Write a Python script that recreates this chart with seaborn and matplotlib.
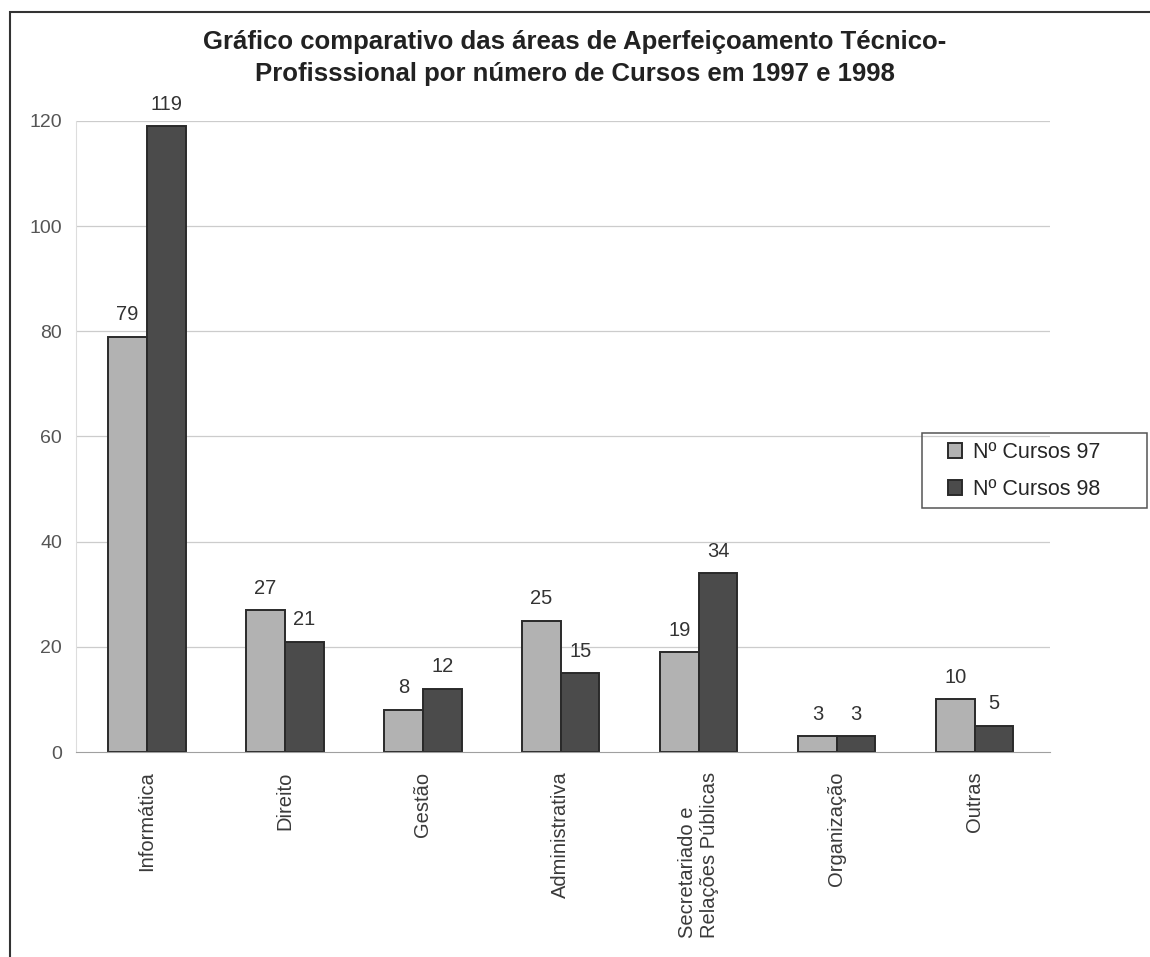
import pandas as pd
import matplotlib.pyplot as plt
import seaborn as sns
from matplotlib.patches import Rectangle

areas = ['Informática', 'Direito', 'Gestão', 'Administrativa',
         'Secretariado e\nRelações Públicas', 'Organização', 'Outras']
cursos_97 = [79, 27, 8, 25, 19, 3, 10]
cursos_98 = [119, 21, 12, 15, 34, 3, 5]
series = ['Nº Cursos 97', 'Nº Cursos 98']

df = pd.DataFrame({
    'Área': areas * 2,
    'Cursos': cursos_97 + cursos_98,
    'Série': [series[0]] * len(areas) + [series[1]] * len(areas),
})

sns.set_style('white')
plt.rcParams['font.family'] = ['Liberation Sans', 'DejaVu Sans']

fig = plt.figure(figsize=(11.5, 9.57), dpi=100)
ax = fig.add_axes([0.066, 0.2142, 0.847, 0.6594])

# light grey grid behind the bars
for y in range(20, 121, 20):
    ax.axhline(y, color='#cccccc', lw=0.9, zorder=0)

sns.barplot(data=df, x='Área', y='Cursos', hue='Série', order=areas,
            palette=['#b2b2b2', '#4b4b4b'], width=0.56, dodge=True,
            edgecolor='#2a2a2a', linewidth=1.4, ax=ax, zorder=2)

for cont in ax.containers:
    ax.bar_label(cont, fmt='%d', padding=9, fontsize=14.5, color='#333333')

ax.set_ylim(0, 120)
ax.set_xlim(-0.515, 6.545)
ax.set_yticks(range(0, 121, 20))
ax.tick_params(axis='y', labelsize=14, labelcolor='#555555', pad=10, length=0)
ax.tick_params(axis='x', labelsize=14.5, labelcolor='#3a3a3a', pad=14, length=0)
ax.set_xticks(range(len(areas)))
ax.set_xticklabels(areas, rotation=90, va='top', ha='center', multialignment='left')
ax.set_xlabel('')
ax.set_ylabel('')
for s in ['top', 'right']:
    ax.spines[s].set_visible(False)
ax.spines['left'].set_color('#dddddd')
ax.spines['bottom'].set_color('#a0a0a0')

ax.legend(loc='center left', bbox_to_anchor=(948 / 1150, 1 - 471 / 957),
          bbox_transform=fig.transFigure, fontsize=15.5, frameon=False,
          handlelength=0.65, handleheight=0.65, borderpad=0, borderaxespad=0,
          labelspacing=0.75, handletextpad=0.5)
# legend box drawn separately (wide right padding as in the original)
fig.patches.append(Rectangle((922 / 1150, 1 - 508 / 957), 225 / 1150, 75 / 957,
                             transform=fig.transFigure, fill=False,
                             edgecolor='#555555', lw=1.1))

fig.text(0.5, 1 - 58 / 957, 'Gráfico comparativo das áreas de Aperfeiçoamento Técnico-\n'
         'Profisssional por número de Cursos em 1997 e 1998',
         ha='center', va='center', fontsize=18.5, fontweight='bold', color='#222222',
         linespacing=1.4)

# outer frame of the original page
fig.patches.append(Rectangle((0.009, -0.05), 1.2, 1.037, transform=fig.transFigure,
                             fill=False, edgecolor='#333333', lw=1.5))

plt.savefig('out.png', dpi=100)
